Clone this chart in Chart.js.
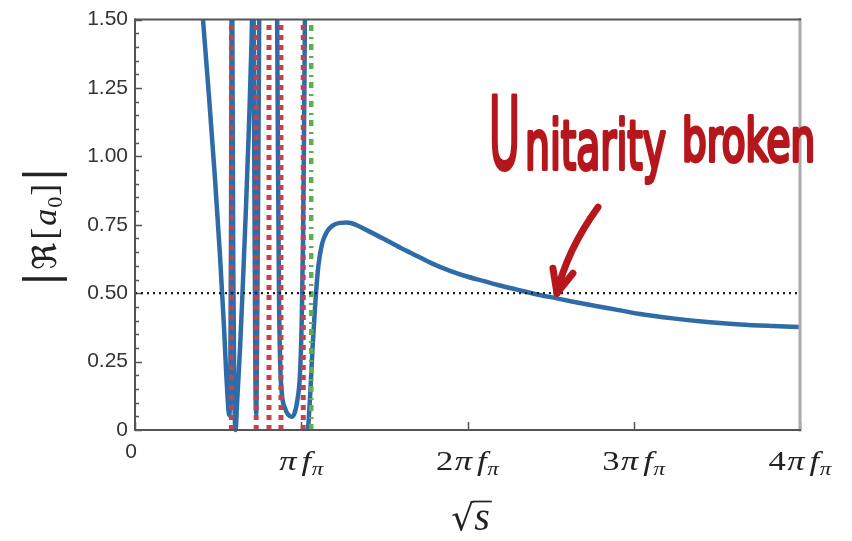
<!DOCTYPE html>
<html>
<head>
<meta charset="utf-8">
<script src="https://cdn.jsdelivr.net/npm/chart.js@4.4.1/dist/chart.umd.min.js"></script>
<style>
  html, body { margin: 0; padding: 0; background: #fff; }
  canvas { display: block; }
</style>
</head>
<body>
<canvas id="chart" width="852" height="541"></canvas>
<script>
// ====== DATA (x in units of pi*f_pi, y = |Re[a0]|, null = break at a pole)
const blueX = [
  0.391, 0.409, 0.445, 0.481, 0.511, 0.535, 0.553, 0.567, 0.574, 0.578, 0.581, null,
  0.585, 0.591, 0.597, 0.605, 0.614, 0.632, 0.650, 0.668, 0.686, 0.701, 0.707, null,
  0.713, 0.719, 0.724, 0.729, 0.734, 0.741, 0.748, null,
  0.854, 0.860, 0.866, 0.873, 0.884, 0.902, 0.923, 0.941, 0.959, 0.977, 0.992, 1.003, 1.011, 1.017, 1.023, null,
  1.041, 1.053, 1.068, 1.083, 1.103, 1.125, 1.155, 1.191, 1.233, 1.275, 1.329, 1.395, 1.492, 1.594,
  1.696, 1.792, 1.895, 1.997, 2.099, 2.195, 2.298, 2.394, 2.538, 2.635, 2.839,
  3.038, 3.236, 3.441, 3.639, 3.838, 4.000
];
const blueY = [
  1.62, 1.50, 1.22, 0.92, 0.64, 0.38, 0.16, 0.055, 0.25, 0.75, 1.60, null,
  1.60, 0.60, 0.15, 0.00, 0.10, 0.30, 0.55, 0.82, 1.12, 1.42, 1.60, null,
  1.60, 0.80, 0.22, 0.06, 0.30, 0.90, 1.60, null,
  1.60, 1.00, 0.50, 0.25, 0.13, 0.08, 0.055, 0.048, 0.06, 0.11, 0.20, 0.40, 0.70, 1.10, 1.60, null,
  0.00, 0.12, 0.30, 0.45, 0.60, 0.68, 0.725, 0.748, 0.757, 0.758, 0.750, 0.730, 0.700, 0.667,
  0.636, 0.607, 0.582, 0.561, 0.544, 0.528, 0.513, 0.499, 0.481, 0.469, 0.446,
  0.424, 0.408, 0.395, 0.386, 0.380, 0.376
];
const redPoles = [0.580, 0.729, 0.806, 0.878, 1.012];
const greenPole = 1.060;
const unitarityLimit = 0.5;
const xTickValues = [0, 1, 2, 3, 4];
const xTickPrefix = ['0', '', '2', '3', '4'];
const yMin = 0, yMax = 1.5, yStep = 0.25, yMinorStep = 0.05;
const arrowTip = { x: 2.538, y: 0.5 };

// ====== DATASETS
const vLine = x => [{ x, y: yMin }, { x, y: yMax }];
const bluePoints = blueX.map((x, i) => x === null ? { x: blueX[i - 1] + 0.0005, y: null } : { x, y: blueY[i] });

const datasets = [
  {
    data: [{ x: 0, y: unitarityLimit }, { x: 4, y: unitarityLimit }],
    borderColor: '#1a1a1a', borderWidth: 2.2, borderDash: [2, 4], order: 0
  },
  {
    data: vLine(greenPole),
    borderColor: '#5fae4c', borderWidth: 4.5, borderDash: [6, 5, 2, 6], order: 1
  },
  ...redPoles.map(x => ({
    data: vLine(x),
    borderColor: '#c4424c', borderWidth: 5, borderDash: [5, 5], order: 2
  })),
  {
    data: bluePoints,
    borderColor: '#2f6ba6', borderWidth: 4.5, cubicInterpolationMode: 'monotone',
    spanGaps: false, order: 3, clip: { left: 0, top: 0, right: 0, bottom: 3 }
  }
];

// ====== TEXT HELPERS
function drawParts(ctx, parts, cx, base, sx = 1) {
  let total = 0;
  parts.forEach(p => { ctx.font = p.font; p.w = ctx.measureText(p.t).width; total += p.w + (p.gap || 0); });
  const left = cx - total * sx / 2;
  ctx.save();
  ctx.translate(left, base);
  ctx.scale(sx, 1);
  let x = 0;
  parts.forEach(p => {
    ctx.font = p.font;
    x += (p.gap || 0);
    ctx.fillText(p.t, x, p.dy || 0);
    x += p.w;
  });
  ctx.restore();
  return { left, parts };
}

function fitText(ctx, text, font, x, base, w) {
  ctx.save();
  ctx.font = font;
  const m = ctx.measureText(text).width;
  ctx.translate(x, base);
  ctx.scale(w / m, 1);
  ctx.fillText(text, 0, 0);
  ctx.lineWidth = 4;
  ctx.lineJoin = 'round';
  ctx.strokeText(text, 0, 0);
  ctx.restore();
}

// ====== PLUGINS: frame, inward ticks, math labels, annotation
const framePlugin = {
  id: 'frame',
  beforeDatasetsDraw(chart) {
    const { ctx, chartArea: a, scales: { x, y } } = chart;
    ctx.save();
    ctx.strokeStyle = '#555';
    ctx.lineWidth = 1.5;
    for (let v = yMin; v <= yMax + 1e-9; v += yMinorStep) {
      const py = Math.round(y.getPixelForValue(v)) + 0.5;
      const major = Math.abs(v / yStep - Math.round(v / yStep)) < 1e-6;
      ctx.beginPath();
      ctx.moveTo(a.left, py);
      ctx.lineTo(a.left + (major ? 7 : 4), py);
      ctx.stroke();
    }
    xTickValues.forEach(v => {
      const px = Math.round(x.getPixelForValue(v)) + 0.5;
      ctx.beginPath();
      ctx.moveTo(px, a.bottom);
      ctx.lineTo(px, a.bottom - 8);
      ctx.stroke();
    });
    ctx.restore();
  },
  afterDatasetsDraw(chart) {
    const { ctx, chartArea: a } = chart;
    ctx.save();
    ctx.lineCap = 'square';
    ctx.strokeStyle = '#aaa';
    ctx.lineWidth = 3;
    ctx.beginPath(); ctx.moveTo(a.right, a.top); ctx.lineTo(a.right, a.bottom); ctx.stroke();
    ctx.strokeStyle = '#555';
    ctx.lineWidth = 2;
    ctx.beginPath(); ctx.moveTo(a.left, a.top); ctx.lineTo(a.right, a.top); ctx.stroke();
    ctx.beginPath(); ctx.moveTo(a.left, a.top); ctx.lineTo(a.left, a.bottom); ctx.lineTo(a.right, a.bottom); ctx.stroke();
    ctx.restore();
  },
  afterDraw(chart) {
    const { ctx, chartArea: a, scales: { x, y } } = chart;
    ctx.save();
    ctx.textBaseline = 'alphabetic';
    ctx.textAlign = 'left';
    ctx.fillStyle = '#222';

    // x tick labels
    const serif = '"Liberation Serif", "DejaVu Serif", serif';
    xTickValues.forEach((v, i) => {
      const px = x.getPixelForValue(v);
      if (v === 0) {
        ctx.font = '21px "Liberation Sans", Arial, sans-serif';
        ctx.fillStyle = '#333';
        ctx.textAlign = 'center';
        ctx.fillText('0', px - 4, a.bottom + 28);
        ctx.textAlign = 'left';
        ctx.fillStyle = '#222';
        return;
      }
      drawParts(ctx, [
        { t: xTickPrefix[i], font: '27px ' + serif },
        { t: 'π', font: 'italic 27px ' + serif, gap: xTickPrefix[i] ? 1 : 0 },
        { t: 'f', font: 'italic 27px ' + serif, gap: 4 },
        { t: 'π', font: 'italic 18px ' + serif, gap: 0.5, dy: 5 }
      ], px, a.bottom + 40, 1.28);
    });

    // x axis title: sqrt(s)
    const sBase = a.bottom + 100;
    const t = drawParts(ctx, [
      { t: '√', font: '36px "DejaVu Serif", serif' },
      { t: 's', font: 'italic 40px ' + serif, gap: 0 }
    ], (a.left + a.right) / 2 + 3, sBase);
    const root = t.parts[0], s = t.parts[1];
    ctx.strokeStyle = '#222';
    ctx.lineWidth = 1.7;
    ctx.beginPath();
    ctx.moveTo(t.left + root.w - 1.5, sBase - 28.5);
    ctx.lineTo(t.left + root.w + s.w + 2, sBase - 28.5);
    ctx.stroke();

    // y axis title: |Re[a0]|
    ctx.save();
    ctx.translate(56, (a.top + a.bottom) / 2 + 2);
    ctx.rotate(-Math.PI / 2);
    drawParts(ctx, [
      { t: '|', font: '44px "DejaVu Serif", serif' },
      { t: 'ℜ', font: '33px "DejaVu Serif", "DejaVu Sans", serif', gap: 2 },
      { t: '[', font: '36px ' + serif, gap: 3 },
      { t: 'a', font: 'italic 34px ' + serif, gap: 2 },
      { t: '0', font: '22px ' + serif, dy: 6, gap: 1 },
      { t: ']', font: '36px ' + serif, gap: 1 },
      { t: '|', font: '44px "DejaVu Serif", serif', gap: 2 }
    ], 0, 0);
    ctx.restore();

    // annotation
    const red = '#b5171c';
    ctx.fillStyle = red;
    ctx.strokeStyle = red;
    const hand = '%spx "DejaVu Sans", sans-serif';
    fitText(ctx, 'U', hand.replace('%s', 100), 489, 169, 31);
    fitText(ctx, 'nitarity', hand.replace('%s', 68), 525, 169, 141);
    fitText(ctx, 'broken', hand.replace('%s', 58), 682, 161, 133);

    const tx = x.getPixelForValue(arrowTip.x), ty = y.getPixelForValue(arrowTip.y);
    ctx.lineWidth = 7;
    ctx.lineCap = 'round';
    ctx.lineJoin = 'round';
    ctx.beginPath();
    ctx.moveTo(tx + 41, ty - 86);
    ctx.quadraticCurveTo(tx + 10, ty - 43, tx, ty);
    ctx.stroke();
    ctx.beginPath();
    ctx.moveTo(tx - 4, ty - 25);
    ctx.lineTo(tx, ty);
    ctx.lineTo(tx + 16, ty - 20);
    ctx.stroke();
    ctx.restore();
  }
};

// ====== CHART
new Chart(document.getElementById('chart'), {
  type: 'line',
  data: { datasets },
  options: {
    responsive: false,
    animation: false,
    devicePixelRatio: 1,
    layout: { padding: { top: 18, right: 52, bottom: 0, left: 0 } },
    elements: { point: { radius: 0, hoverRadius: 0 }, line: { tension: 0 } },
    plugins: { legend: { display: false }, tooltip: { enabled: false } },
    events: [],
    scales: {
      x: {
        type: 'linear', min: 0, max: 4,
        ticks: { display: false },
        grid: { display: false, drawTicks: false },
        border: { display: false },
        afterFit: s => { s.height = 111; }
      },
      y: {
        min: yMin, max: yMax,
        ticks: {
          stepSize: yStep, padding: 7, color: '#333',
          font: { family: '"Liberation Sans", Arial, sans-serif', size: 21 },
          callback: v => v === 0 ? '0' : v.toFixed(2)
        },
        grid: { display: false, drawTicks: false },
        border: { display: false },
        afterFit: s => { s.height; s.width = 135; }
      }
    }
  },
  plugins: [framePlugin]
});
</script>
</body>
</html>
